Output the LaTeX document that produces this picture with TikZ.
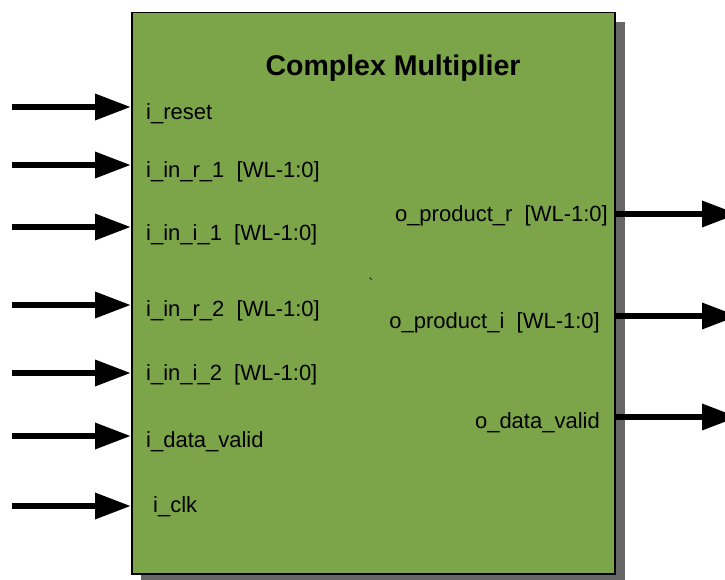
\documentclass[tikz,border=0pt]{standalone}
\usepackage{fontspec}
\setmainfont{Liberation Sans}
\usetikzlibrary{arrows.meta, positioning}

\definecolor{blockgreen}{RGB}{124,165,73}

\begin{document}
\begin{tikzpicture}[x=1pt,y=-1pt,
        port/.style={line width=6.5pt,-{Triangle[length=36pt,width=25pt]}},
        inlabel/.style={anchor=base west,inner sep=0pt,font=\fontsize{22}{26}\selectfont},
        outlabel/.style={anchor=base east,inner sep=0pt,font=\fontsize{22}{26}\selectfont}]
    \useasboundingbox (0,0) rectangle (725,580);

    % drop shadow, then the block itself
    \fill[black!60] (141,22) rectangle (625,590);
    \node[draw,line width=1.5pt,fill=blockgreen,inner sep=0pt,anchor=north west,
          minimum width=483pt,minimum height=561pt] (mult) at (131,12) {};
    \node[anchor=base,font=\bfseries\fontsize{28.5}{32}\selectfont] (title) at (393,76) {Complex Multiplier};

    % inputs
    \node[inlabel] (rst) at (146,120) {i\_reset};
    \node[inlabel] (inr1) at (146,178) {i\_in\_r\_1~~[WL-1:0]};
    \node[inlabel] (ini1) at (146,240) {i\_in\_i\_1~~[WL-1:0]};
    \node[inlabel] (inr2) at (146,316) {i\_in\_r\_2~~[WL-1:0]};
    \node[inlabel] (ini2) at (146,380) {i\_in\_i\_2~~[WL-1:0]};
    \node[inlabel] (dvin) at (146,447) {i\_data\_valid};
    \node[inlabel] (clk) at (153,512) {i\_clk};

    \coordinate (rst src) at (12,107);
    \coordinate (inr1 src) at (12,165);
    \coordinate (ini1 src) at (12,227);
    \coordinate (inr2 src) at (12,305);
    \coordinate (ini2 src) at (12,373);
    \coordinate (dvin src) at (12,436);
    \coordinate (clk src) at (12,506);

    \draw[port] (rst src) -- (rst src -| mult.west);
    \draw[port] (inr1 src) -- (inr1 src -| mult.west);
    \draw[port] (ini1 src) -- (ini1 src -| mult.west);
    \draw[port] (inr2 src) -- (inr2 src -| mult.west);
    \draw[port] (ini2 src) -- (ini2 src -| mult.west);
    \draw[port] (dvin src) -- (dvin src -| mult.west);
    \draw[port] (clk src) -- (clk src -| mult.west);

    \node[inner sep=0pt,font=\fontsize{14}{16}\selectfont] (tick) at (371,283) {\textasciigrave};

    % outputs
    \node[outlabel] (prodr) at (608,221) {o\_product\_r~~[WL-1:0]};
    \node[outlabel] (prodi) at (600,328) {o\_product\_i~~[WL-1:0]};
    \node[outlabel] (dvout) at (600,428) {o\_data\_valid};

    \coordinate (prodr dst) at (738,214);
    \coordinate (prodi dst) at (738,316);
    \coordinate (dvout dst) at (738,417);

    \draw[port] (prodr dst -| mult.east) -- (prodr dst);
    \draw[port] (prodi dst -| mult.east) -- (prodi dst);
    \draw[port] (dvout dst -| mult.east) -- (dvout dst);
\end{tikzpicture}
\end{document}
